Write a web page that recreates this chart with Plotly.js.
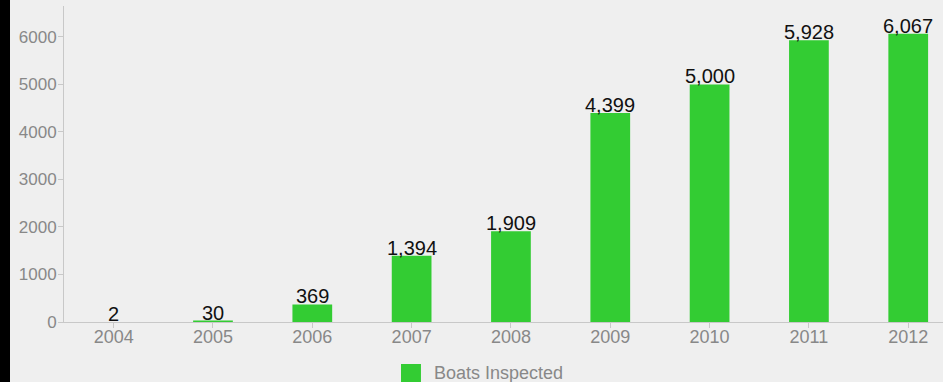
<!DOCTYPE html>
<html><head><meta charset="utf-8">
<script src="https://cdn.plot.ly/plotly-3.0.1.min.js"></script>
<style>html,body{margin:0;padding:0;background:#000;}#c{position:absolute;left:10px;top:0;width:933px;height:382px;}</style>
</head><body><div id="c"></div>
<script>
const years = ['2004','2005','2006','2007','2008','2009','2010','2011','2012'];
const boatsInspected = [2, 30, 369, 1394, 1909, 4399, 5000, 5928, 6067];
const seriesName = 'Boats Inspected';
const yTicks = [0, 1000, 2000, 3000, 4000, 5000, 6000];

const FONT = 'Liberation Sans, Arial, Helvetica, sans-serif';
const trace = {
  type: 'bar', x: years, y: boatsInspected, name: seriesName,
  marker: {color: '#33cc33'},
  width: 0.4,
  hoverinfo: 'none', showlegend: false
};
const labels = years.map((yr, i) => ({
  x: i, y: boatsInspected[i], xref: 'x', yref: 'y',
  text: boatsInspected[i].toLocaleString('en-US'),
  showarrow: false, yanchor: 'bottom', yshift: -5,
  font: {family: FONT, size: 20, color: '#111'}
}));
labels.push({
  xref: 'paper', yref: 'paper', x: 0.4187, y: -0.1614, xanchor: 'left', yanchor: 'middle',
  text: seriesName, showarrow: false, font: {family: FONT, size: 18, color: '#888'}
});
const layout = {
  width: 933, height: 382,
  paper_bgcolor: '#efefef', plot_bgcolor: '#efefef',
  margin: {l: 54, r: 0, t: 6, b: 60},
  font: {family: FONT, color: '#888', size: 18},
  xaxis: {type: 'category', range: [-0.5, 8.35], showgrid: false, showline: true, linecolor: '#c8c8c8', linewidth: 1,
    ticks: 'outside', ticklen: 5, tickcolor: '#c8c8c8', tickfont: {color: '#888', size: 18}, zeroline: false,
    ticklabelstandoff: -7},
  yaxis: {range: [0, 6650], tickvals: yTicks, showgrid: false, showline: true, linecolor: '#c8c8c8',
    ticks: 'outside', ticklen: 5, tickcolor: '#c8c8c8', tickfont: {color: '#888', size: 17}, zeroline: false,
    ticklabelstandoff: -2},
  showlegend: false,
  annotations: labels,
  shapes: [{type: 'rect', xref: 'paper', yref: 'paper', x0: 0.3834, x1: 0.4061, y0: -0.196, y1: -0.1329,
    fillcolor: '#33cc33', line: {width: 0}}]
};
Plotly.newPlot('c', [trace], layout, {displayModeBar: false, staticPlot: true});
</script></body></html>
